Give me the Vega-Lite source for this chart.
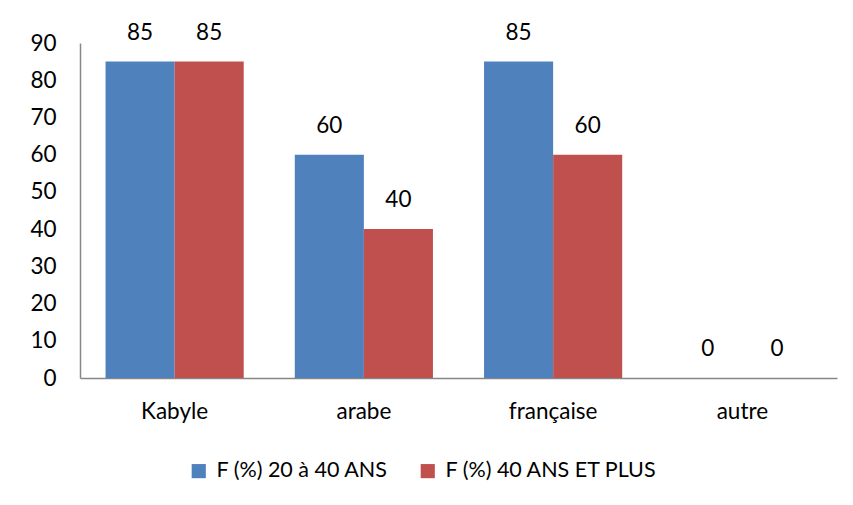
{
  "$schema": "https://vega.github.io/schema/vega-lite/v6.json",
  "autosize": "none",
  "width": 757,
  "height": 335,
  "padding": {"left": 80, "top": 43, "right": 16, "bottom": 127},
  "background": "white",
  "config": {"view": {"stroke": null}, "font": "Lato"},
  "data": {"values": [
    {"langue": "Kabyle", "serie": "F (%) 20 à 40 ANS", "valeur": 85},
    {"langue": "Kabyle", "serie": "F (%) 40 ANS ET PLUS", "valeur": 85},
    {"langue": "arabe", "serie": "F (%) 20 à 40 ANS", "valeur": 60},
    {"langue": "arabe", "serie": "F (%) 40 ANS ET PLUS", "valeur": 40},
    {"langue": "française", "serie": "F (%) 20 à 40 ANS", "valeur": 85},
    {"langue": "française", "serie": "F (%) 40 ANS ET PLUS", "valeur": 60},
    {"langue": "autre", "serie": "F (%) 20 à 40 ANS", "valeur": 0},
    {"langue": "autre", "serie": "F (%) 40 ANS ET PLUS", "valeur": 0}
  ]},
  "encoding": {
    "x": {"field": "langue", "type": "nominal", "sort": null,
      "scale": {"paddingInner": 0.27, "paddingOuter": 0.135},
      "axis": {"title": null, "labelAngle": 0, "ticks": false, "domainColor": "#878787", "domainWidth": 1.5,
        "labelFontSize": 22.5, "labelColor": "#000000", "labelPadding": 22, "labelFont": "Lato"}},
    "xOffset": {"field": "serie", "type": "nominal", "sort": null},
    "y": {"field": "valeur", "type": "quantitative",
      "scale": {"domain": [0, 90], "nice": false},
      "axis": {"title": null, "values": [0,10,20,30,40,50,60,70,80,90], "grid": false, "ticks": false,
        "domainColor": "#878787", "domainWidth": 1.5, "labelFontSize": 22.5, "labelColor": "#000000",
        "labelPadding": 24, "labelFont": "Lato"}}
  },
  "layer": [
    {"mark": {"type": "bar"},
     "encoding": {
       "color": {"field": "serie", "type": "nominal", "sort": null,
         "scale": {"range": ["#4F81BD", "#C0504D"]},
         "legend": {"title": null, "orient": "none", "direction": "horizontal", "legendX": 108, "legendY": 417,
           "symbolType": "square", "symbolSize": 200, "labelFontSize": 21.5, "labelColor": "#000000",
           "labelLimit": 400, "columnPadding": 28, "labelOffset": 7, "labelFont": "Lato"}}
     }},
    {"mark": {"type": "text", "baseline": "bottom", "dy": -17, "fontSize": 22.5, "color": "#000000", "font": "Lato"},
     "encoding": {"text": {"field": "valeur", "type": "quantitative"}}}
  ]
}
